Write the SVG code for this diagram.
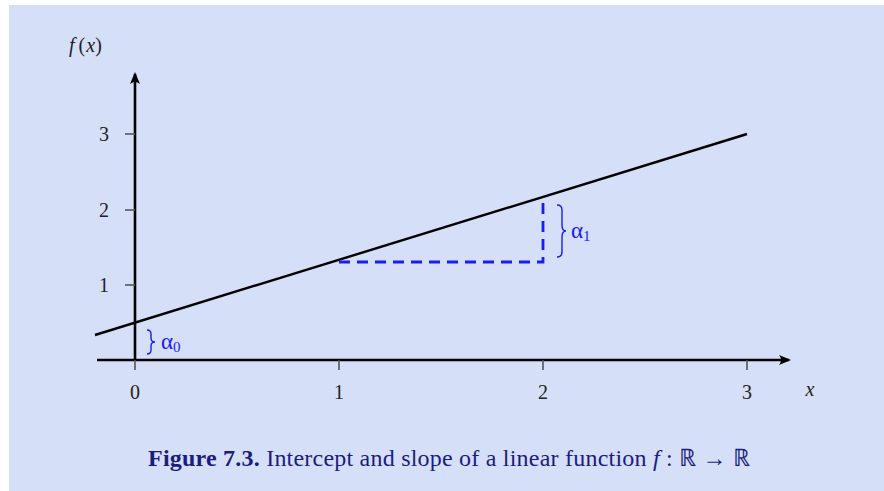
<svg xmlns="http://www.w3.org/2000/svg" width="884" height="491" viewBox="0 0 884 491">
<defs>
<style>
.axis{stroke:#000;stroke-width:2.6;fill:none}
.tick{stroke:#555;stroke-width:1.6}
.fn{stroke:#000;stroke-width:2.4;fill:none}
.dash{stroke:#1a1aff;stroke-width:2.8;fill:none;stroke-dasharray:11,7}
.brace{stroke:#1a1aff;stroke-width:1.4;fill:none}
.lbl{font-family:"Liberation Serif",serif;font-size:20px;fill:#222}
.it{font-style:italic}
.blue{font-family:"Liberation Serif",serif;font-size:23px;fill:#1a1aff}
.cap{font-family:"Liberation Serif",serif;font-size:24px;fill:#1c1c80}
</style>
<marker id="arr" viewBox="0 0 12 10" refX="10" refY="5" markerWidth="12" markerHeight="10" markerUnits="userSpaceOnUse" orient="auto">
<path d="M0,0 Q4,5 0,10 L12,5 Z" fill="#000"/>
</marker>
</defs>
<rect x="9" y="5" width="875" height="486" fill="#d5dff7"/>
<g id="connectors">
<line id="x-axis" class="axis" x1="97" y1="360" x2="789" y2="360" marker-end="url(#arr)"/>
<line id="y-axis" class="axis" x1="135" y1="360" x2="135" y2="74" marker-end="url(#arr)"/>
<line id="function" class="fn" x1="95" y1="335" x2="747" y2="134"/>
<polyline id="slope" class="dash" points="339,262 543,262 543,197"/>
</g>
<g id="ticks">
<line class="tick" x1="135" y1="360" x2="135" y2="370"/>
<line class="tick" x1="339" y1="360" x2="339" y2="370"/>
<line class="tick" x1="543" y1="360" x2="543" y2="370"/>
<line class="tick" x1="747" y1="360" x2="747" y2="370"/>
<line class="tick" x1="125" y1="285" x2="135" y2="285"/>
<line class="tick" x1="125" y1="210" x2="135" y2="210"/>
<line class="tick" x1="125" y1="134" x2="135" y2="134"/>
</g>
<g id="tick-labels" class="lbl" text-anchor="middle">
<text x="135" y="399">0</text>
<text x="339" y="399">1</text>
<text x="543" y="399">2</text>
<text x="747" y="399">3</text>
<text x="104" y="292">1</text>
<text x="104" y="217">2</text>
<text x="104" y="141">3</text>
</g>
<g id="axis-labels">
<text class="lbl it" x="810" y="396" font-size="23" text-anchor="middle">x</text>
<text class="lbl" x="69" y="52" font-size="23"><tspan font-style="italic">f</tspan><tspan dx="4">(</tspan><tspan font-style="italic" dx="1">x</tspan>)</text>
</g>
<g id="alpha0">
<path class="brace" d="M147,330 Q151,330 151,334 L151,338 Q151,342 155,342 Q151,342 151,346 L151,350 Q151,354 147,354"/>
<text class="blue" x="161" y="349">α<tspan font-size="15" dy="3">0</tspan></text>
</g>
<g id="alpha1">
<path class="brace" d="M557,205 Q562,205 562,210 L562,225 Q562,231 566,231 Q562,231 562,237 L562,252 Q562,257 557,257"/>
<text class="blue" x="571" y="238">α<tspan font-size="15" dy="3">1</tspan></text>
</g>
<g id="caption">
<text class="cap" x="148" y="466" textLength="602" lengthAdjust="spacing"><tspan font-weight="bold">Figure 7.3.</tspan> Intercept and slope of a linear function <tspan font-style="italic">f</tspan> : ℝ → ℝ</text>
</g>
</svg>
